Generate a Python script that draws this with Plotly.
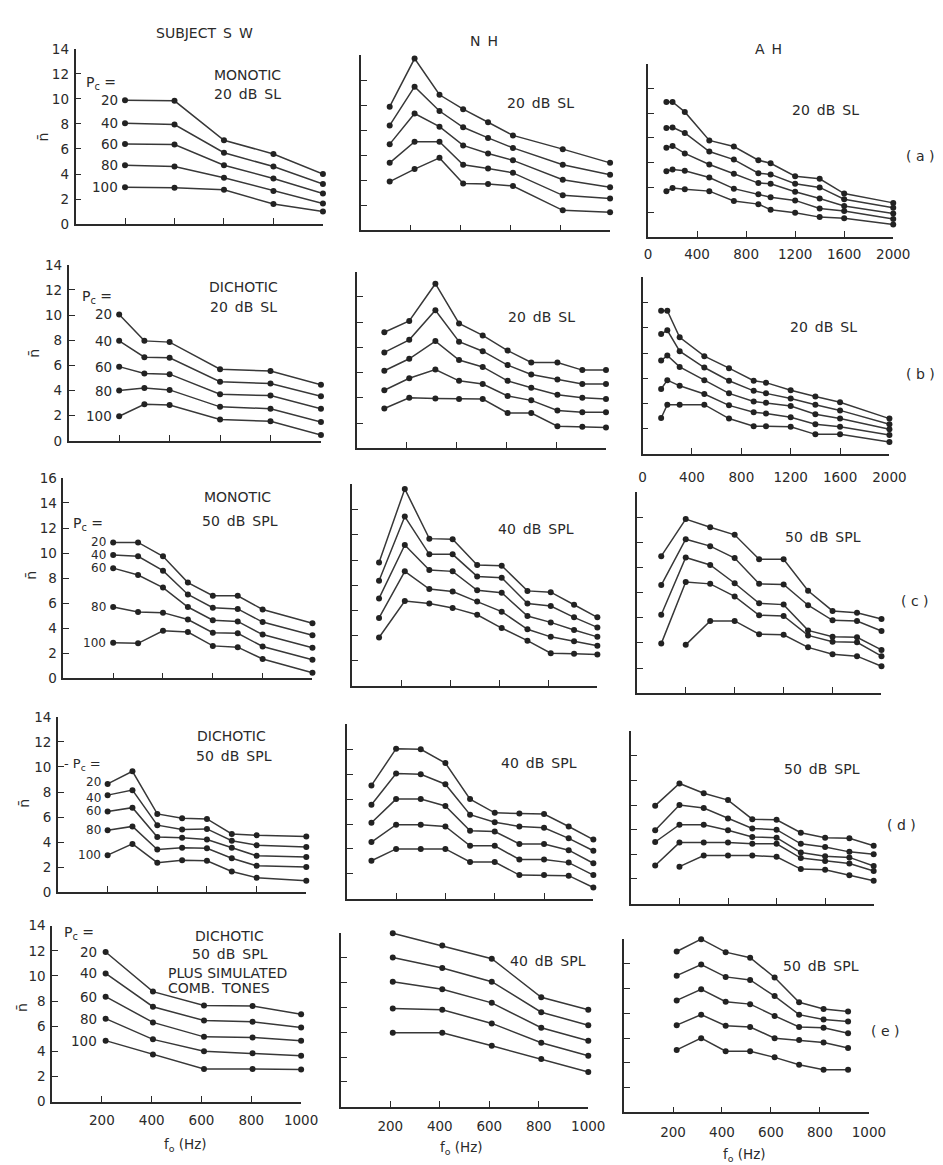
import plotly.graph_objects as go

W, H = 943, 1165
PC = [20, 40, 60, 80, 100]

# ---------------- data (n-bar vs f0) ----------------
# Row (a)
A_SW_F = [200, 400, 600, 800, 1000]
A_SW = [[9.9, 9.85, 6.7, 5.6, 4.0],
        [8.05, 7.95, 5.7, 4.6, 3.2],
        [6.4, 6.35, 4.7, 3.65, 2.45],
        [4.7, 4.6, 3.7, 2.65, 1.65],
        [2.95, 2.9, 2.75, 1.6, 1.0]]
A_NH_F = [115, 215, 315, 410, 510, 610, 810, 1000]
A_NH = [[9.9, 13.75, 10.85, 9.7, 8.65, 7.6, 6.5, 5.4],
        [8.4, 11.5, 9.55, 8.25, 7.4, 6.6, 5.25, 4.45],
        [6.9, 9.35, 8.3, 6.8, 6.15, 5.6, 4.05, 3.45],
        [5.4, 7.1, 7.1, 5.25, 4.95, 4.6, 2.8, 2.55],
        [3.9, 4.9, 5.8, 3.75, 3.7, 3.55, 1.6, 1.45]]
A_AH_F = [150, 200, 300, 500, 700, 900, 1000, 1200, 1400, 1600, 2000]
A_AH = [[10.9, 10.9, 10.1, 7.8, 7.3, 6.2, 5.95, 4.9, 4.7, 3.5, 2.75],
        [8.8, 8.85, 8.4, 6.9, 6.25, 5.15, 5.05, 4.3, 4.0, 3.05, 2.35],
        [7.2, 7.35, 6.75, 5.85, 5.1, 4.35, 4.3, 3.65, 3.1, 2.5, 1.9],
        [5.3, 5.45, 5.35, 4.8, 3.9, 3.45, 3.2, 2.95, 2.3, 2.1, 1.45],
        [3.7, 3.95, 3.85, 3.7, 2.9, 2.65, 2.2, 1.95, 1.6, 1.5, 1.0]]
# Row (b)
B_SW_F = [200, 300, 400, 600, 800, 1000]
B_SW = [[10.05, 7.95, 7.85, 5.7, 5.55, 4.45],
        [7.95, 6.65, 6.6, 4.7, 4.55, 3.55],
        [5.9, 5.35, 5.3, 3.7, 3.6, 2.55],
        [4.0, 4.2, 4.05, 2.7, 2.55, 1.5],
        [1.95, 2.9, 2.85, 1.7, 1.55, 0.45]]
B_NH_F = [110, 210, 315, 410, 505, 605, 700, 805, 905, 1000]
B_NH = [[9.2, 10.1, 13.05, 9.9, 8.95, 7.75, 6.8, 6.8, 6.2, 6.2],
        [7.6, 8.6, 10.95, 8.45, 7.7, 6.6, 5.85, 5.45, 5.1, 5.1],
        [6.15, 7.1, 8.5, 7.0, 6.45, 5.35, 4.8, 4.25, 4.0, 3.9],
        [4.6, 5.55, 6.25, 5.35, 5.1, 4.15, 3.8, 3.0, 2.85, 2.85],
        [3.15, 4.0, 3.95, 3.9, 3.9, 2.8, 2.8, 1.75, 1.7, 1.65]]
B_AH_F = [150, 200, 300, 500, 700, 900, 1000, 1200, 1400, 1600, 2000]
B_AH = [[11.35, 11.35, 9.25, 7.75, 6.8, 5.8, 5.65, 5.05, 4.55, 4.1, 2.8],
        [9.5, 9.8, 8.15, 6.85, 5.8, 5.0, 4.8, 4.4, 3.9, 3.45, 2.35],
        [7.4, 7.8, 6.9, 5.85, 4.8, 4.15, 4.05, 3.8, 3.15, 2.8, 1.95],
        [5.15, 5.85, 5.4, 4.75, 3.85, 3.3, 3.2, 2.9, 2.35, 2.15, 1.5],
        [2.85, 3.9, 3.9, 3.9, 2.8, 2.2, 2.2, 2.15, 1.55, 1.55, 0.95]]
# Row (c)
C_SW_F = [200, 300, 400, 500, 600, 700, 800, 1000]
C_SW = [[10.85, 10.85, 9.75, 7.65, 6.6, 6.6, 5.5, 4.4],
        [9.85, 9.75, 8.6, 6.7, 5.65, 5.55, 4.5, 3.45],
        [8.8, 8.25, 7.25, 5.7, 4.65, 4.55, 3.5, 2.45],
        [5.7, 5.3, 5.25, 4.7, 3.65, 3.6, 2.55, 1.5],
        [2.85, 2.8, 3.8, 3.7, 2.6, 2.5, 1.55, 0.45]]
C_NH_F = [110, 215, 315, 410, 510, 610, 715, 810, 905, 1000]
C_NH = [[9.8, 15.65, 11.7, 11.65, 9.6, 9.55, 7.55, 7.45, 6.45, 5.45],
        [8.35, 13.45, 10.45, 10.45, 8.7, 8.6, 6.55, 6.35, 5.45, 4.65],
        [6.95, 11.2, 9.2, 9.1, 7.6, 7.4, 5.55, 5.05, 4.45, 3.9],
        [5.4, 9.1, 7.7, 7.5, 6.7, 5.9, 4.5, 3.9, 3.55, 3.2],
        [3.85, 6.75, 6.55, 6.2, 5.65, 4.6, 3.6, 2.6, 2.55, 2.5]]
C_AH_F = [200, 400, 600, 800, 1000, 1200, 1400, 1600, 1800, 2000]
C_AH = [[10.9, 13.85, 13.2, 12.6, 10.65, 10.65, 8.15, 6.55, 6.4, 5.9],
        [8.6, 12.25, 11.7, 10.75, 8.7, 8.65, 7.0, 5.8, 5.75, 4.95],
        [6.25, 10.8, 10.2, 8.75, 7.15, 7.05, 5.0, 4.5, 4.45, 3.45],
        [3.95, 8.85, 8.7, 7.7, 6.2, 6.15, 4.6, 4.1, 4.05, 2.95],
        [None, 3.85, 5.75, 5.75, 4.7, 4.65, 3.65, 3.1, 2.95, 2.15]]
# Row (d)
D_SW_F = [200, 300, 400, 500, 600, 700, 800, 1000]
D_SW = [[8.65, 9.65, 6.25, 5.9, 5.85, 4.65, 4.55, 4.45],
        [7.75, 8.15, 5.35, 5.0, 5.05, 4.1, 3.75, 3.6],
        [6.45, 6.75, 4.4, 4.35, 4.2, 3.55, 2.9, 2.8],
        [4.95, 5.25, 3.4, 3.55, 3.5, 2.7, 2.1, 2.0],
        [2.95, 3.85, 2.35, 2.55, 2.5, 1.65, 1.15, 0.9]]
D_NH_F = [100, 200, 300, 400, 500, 600, 700, 800, 900, 1000]
D_NH = [[9.1, 12.05, 12.0, 10.9, 8.0, 6.9, 6.85, 6.8, 5.8, 4.75],
        [7.55, 10.05, 10.0, 9.2, 6.75, 6.15, 5.8, 5.7, 4.85, 3.85],
        [6.1, 8.0, 8.0, 7.45, 5.45, 5.4, 4.4, 4.4, 3.9, 2.85],
        [4.55, 5.95, 5.95, 5.8, 4.25, 4.25, 3.15, 3.15, 2.9, 1.9],
        [3.05, 4.0, 4.0, 4.0, 2.95, 2.95, 1.9, 1.9, 1.85, 0.9]]
D_AH_F = [200, 400, 600, 800, 1000, 1200, 1400, 1600, 1800, 2000]
D_AH = [[7.95, 9.75, 8.95, 8.4, 6.85, 6.8, 5.75, 5.35, 5.3, 4.7],
        [5.95, 8.0, 7.75, 6.9, 6.1, 6.0, 4.85, 4.6, 4.2, 4.0],
        [5.0, 6.4, 6.4, 5.95, 5.4, 5.35, 4.15, 3.85, 3.75, 3.05],
        [3.1, 4.95, 4.95, 4.95, 4.85, 4.85, 3.7, 3.45, 3.25, 2.65],
        [None, 3.0, 3.9, 3.9, 3.9, 3.8, 2.8, 2.75, 2.3, 1.85]]
# Row (e)
E_SW_F = [215, 405, 610, 805, 1000]
E_SW = [[11.9, 8.75, 7.65, 7.6, 6.95],
        [10.2, 7.55, 6.45, 6.35, 5.9],
        [8.35, 6.3, 5.15, 5.1, 4.85],
        [6.6, 4.95, 4.0, 3.85, 3.65],
        [4.85, 3.75, 2.6, 2.6, 2.55]]
E_NH_F = [210, 410, 610, 810, 1000]
E_NH = [[13.95, 12.95, 11.9, 8.8, 7.8],
        [12.0, 11.15, 10.05, 7.6, 6.55],
        [10.05, 9.45, 8.35, 6.35, 5.3],
        [7.9, 7.8, 6.7, 5.15, 4.1],
        [5.95, 5.95, 4.9, 3.85, 2.8]]
E_AH_F = [215, 315, 415, 515, 615, 715, 815, 915]
E_AH = [[13.0, 14.0, 12.95, 12.5, 10.9, 8.9, 8.35, 8.15],
        [11.05, 11.95, 10.95, 10.7, 9.4, 7.9, 7.5, 7.35],
        [9.05, 9.95, 8.95, 8.75, 7.8, 6.9, 6.85, 6.4],
        [7.05, 7.9, 7.0, 6.9, 6.0, 5.85, 5.65, 5.2],
        [5.05, 6.0, 4.95, 4.95, 4.45, 3.85, 3.45, 3.45]]

X_TICKS_1000 = [200, 400, 600, 800, 1000]
X_TICKS_2000 = [0, 400, 800, 1200, 1600, 2000]

# ---------------- layout geometry (pixels) ----------------
# (x px at f=0, x px at f=max, y px at n=0, y px at n=top)
GEOM = {
    ("a", 1): (65, 318, 211, 33.3), ("a", 2): (357, 611.7, 217.3, 40), ("a", 3): (650.5, 901.3, 224, 48.3),
    ("b", 1): (58, 316, 430.7, 252.3), ("b", 2): (352.8, 607.5, 438.3, 259.3), ("b", 3): (645, 897.4, 444, 265),
    ("c", 1): (52.5, 307.3, 671.7, 468.3), ("c", 2): (347.8, 598.7, 679.3, 475), ("c", 3): (639, 889.3, 686.7, 482.7),
    ("d", 1): (47, 301, 888.3, 710.7), ("d", 2): (342.4, 594.6, 895, 718.3), ("d", 3): (633, 881.3, 900, 725),
    ("e", 1): (41, 295.7, 1100.7, 922.3), ("e", 2): (336.3, 589.4, 1106, 929.3), ("e", 3): (626, 876.4, 1111.7, 936),
}
# vertical nudges (px) of the P_c value labels in the dichotic 50 dB panel
LABEL_YSHIFT_D = [2, -3, 0, 0, 0]

PANELS = [
    ("a", 1, A_SW_F, A_SW, 14, 1000), ("a", 2, A_NH_F, A_NH, 14, 1000), ("a", 3, A_AH_F, A_AH, 14, 2000),
    ("b", 1, B_SW_F, B_SW, 14, 1000), ("b", 2, B_NH_F, B_NH, 14, 1000), ("b", 3, B_AH_F, B_AH, 14, 2000),
    ("c", 1, C_SW_F, C_SW, 16, 1000), ("c", 2, C_NH_F, C_NH, 16, 1000), ("c", 3, C_AH_F, C_AH, 16, 2000),
    ("d", 1, D_SW_F, D_SW, 14, 1000), ("d", 2, D_NH_F, D_NH, 14, 1000), ("d", 3, D_AH_F, D_AH, 14, 2000),
    ("e", 1, E_SW_F, E_SW, 14, 1000), ("e", 2, E_NH_F, E_NH, 14, 1000), ("e", 3, E_AH_F, E_AH, 14, 1000),
]

INK = "#2a2a2a"
FONT = "DejaVu Sans"

fig = go.Figure()
layout = dict(width=W, height=H, margin=dict(l=0, r=0, t=0, b=0),
              paper_bgcolor="white", plot_bgcolor="rgba(0,0,0,0)", showlegend=False,
              font=dict(family=FONT, color=INK, size=13))
annotations = []


def px(x, y):
    return x / W, 1 - y / H


for i, (row, col, f, vals, ymax, xmax) in enumerate(PANELS, start=1):
    x0, x1, yb, yt = GEOM[(row, col)]
    xa = "x" if i == 1 else f"x{i}"
    ya = "y" if i == 1 else f"y{i}"
    for k, series in enumerate(vals):
        fig.add_trace(go.Scatter(
            x=f, y=series, xaxis=xa, yaxis=ya, mode="lines+markers",
            line=dict(color="#383838", width=1.5),
            marker=dict(color="#222222", size=6), cliponaxis=False,
            connectgaps=False, hoverinfo="skip"))
        if col == 1:
            j = next(m for m, v in enumerate(series) if v is not None)
            lbl_size = 12 if row in ("c", "d") else 13.5
            annotations.append(dict(x=f[j], y=series[j], xref=xa, yref=ya,
                                    text=str(PC[k]), showarrow=False, xanchor="right",
                                    yanchor="middle", xshift=-5 if row != "e" else -7,
                                    yshift=LABEL_YSHIFT_D[k] if row == "d" else 0,
                                    font=dict(size=lbl_size, family=FONT, color=INK)))
    show_x_labels = (row == "e") or (col == 3 and row in ("a", "b"))
    if col == 3 and row != "e":
        tv = X_TICKS_2000 if row in ("a", "b") else X_TICKS_2000[1:]
    else:
        tv = X_TICKS_1000
    standoff = {"a": 4, "b": 10, "e": 6}.get(row, 4)
    if row == "e":
        standoff = {1: 5, 2: 6, 3: 7}[col]
    xkey = "xaxis" if i == 1 else f"xaxis{i}"
    ykey = "yaxis" if i == 1 else f"yaxis{i}"
    layout[xkey] = dict(domain=[x0 / W, x1 / W], range=[0, xmax], anchor=ya,
                        showline=True, linecolor=INK, linewidth=1.6, ticks="inside",
                        ticklen=6, tickwidth=1.3, tickcolor=INK, tickvals=tv,
                        showticklabels=show_x_labels, ticklabelstandoff=standoff,
                        tickfont=dict(size=13.5, family=FONT, color=INK),
                        showgrid=False, zeroline=False, fixedrange=True)
    layout[ykey] = dict(domain=[1 - yb / H, 1 - yt / H], range=[0, ymax], anchor=xa,
                        showline=True, linecolor=INK, linewidth=1.6, ticks="inside",
                        ticklen=6, tickwidth=1.3, tickcolor=INK,
                        tickvals=list(range(0, ymax + 1, 2)),
                        showticklabels=(col == 1), ticklabelstandoff=2,
                        tickfont=dict(size=13.5, family=FONT, color=INK),
                        showgrid=False, zeroline=False, fixedrange=True)


def text(x, y, s, size=14, xanchor="center", angle=0):
    ax, ay = px(x, y)
    annotations.append(dict(x=ax, y=ay, xref="paper", yref="paper", text=s,
                            showarrow=False, xanchor=xanchor, yanchor="middle",
                            textangle=angle, font=dict(size=size, family=FONT, color=INK)))


SP = "\u2002"
# column headings
text(197, 17, "SUBJECT" + SP + "S" + SP + "W")
text(483, 25, "N" + SP + "H")
text(774, 33, "A" + SP + "H")
# column 1 condition labels
text(241, 60, "MONOTIC")
text(241, 79, "20" + SP + "dB" + SP + "SL")
text(237, 275, "DICHOTIC")
text(237, 295, "20" + SP + "dB" + SP + "SL")
text(231, 488, "MONOTIC")
text(233, 512, "50" + SP + "dB" + SP + "SPL")
text(225, 730, "DICHOTIC")
text(227, 750, "50" + SP + "dB" + SP + "SPL")
text(222, 933, "DICHOTIC")
text(223, 951, "50" + SP + "dB" + SP + "SPL")
text(157, 970, "PLUS SIMULATED", xanchor="left")
text(157, 986, "COMB." + SP + "TONES", xanchor="left")
# P_c headers
text(91, 68, "P<sub>c</sub> =")
text(87, 285, "P<sub>c</sub> =")
text(78, 515, "P<sub>c</sub> =")
text(51, 759, "- P<sub>c</sub> =", 13, xanchor="left")
text(69, 930, "P<sub>c</sub> =")
# columns 2 and 3 level labels
text(541, 88, "20" + SP + "dB" + SP + "SL")
text(832, 95, "20" + SP + "dB" + SP + "SL")
text(542, 305, "20" + SP + "dB" + SP + "SL")
text(830, 315, "20" + SP + "dB" + SP + "SL")
text(536, 520, "40" + SP + "dB" + SP + "SPL")
text(829, 528, "50" + SP + "dB" + SP + "SPL")
text(539, 757, "40" + SP + "dB" + SP + "SPL")
text(828, 763, "50" + SP + "dB" + SP + "SPL")
text(548, 958, "40" + SP + "dB" + SP + "SPL")
text(827, 963, "50" + SP + "dB" + SP + "SPL")
# row letters
text(929, 142, "( a )")
text(929, 363, "( b )")
text(924, 593, "( c )")
text(910, 820, "( d )")
text(893, 1029, "( e )")
# y-axis symbols
for (x, y) in [(32, 123), (23, 342), (20, 567), (12, 798), (10, 1005)]:
    text(x, y, "n\u0304", 14, angle=-90)
# x-axis titles
text(177, 1145, "f<sub>o</sub> (Hz)", 13.5)
text(460, 1148, "f<sub>o</sub> (Hz)", 13.5)
text(749, 1155, "f<sub>o</sub> (Hz)", 13.5)

layout["annotations"] = annotations
fig.update_layout(**layout)
fig.write_html("out.html")
